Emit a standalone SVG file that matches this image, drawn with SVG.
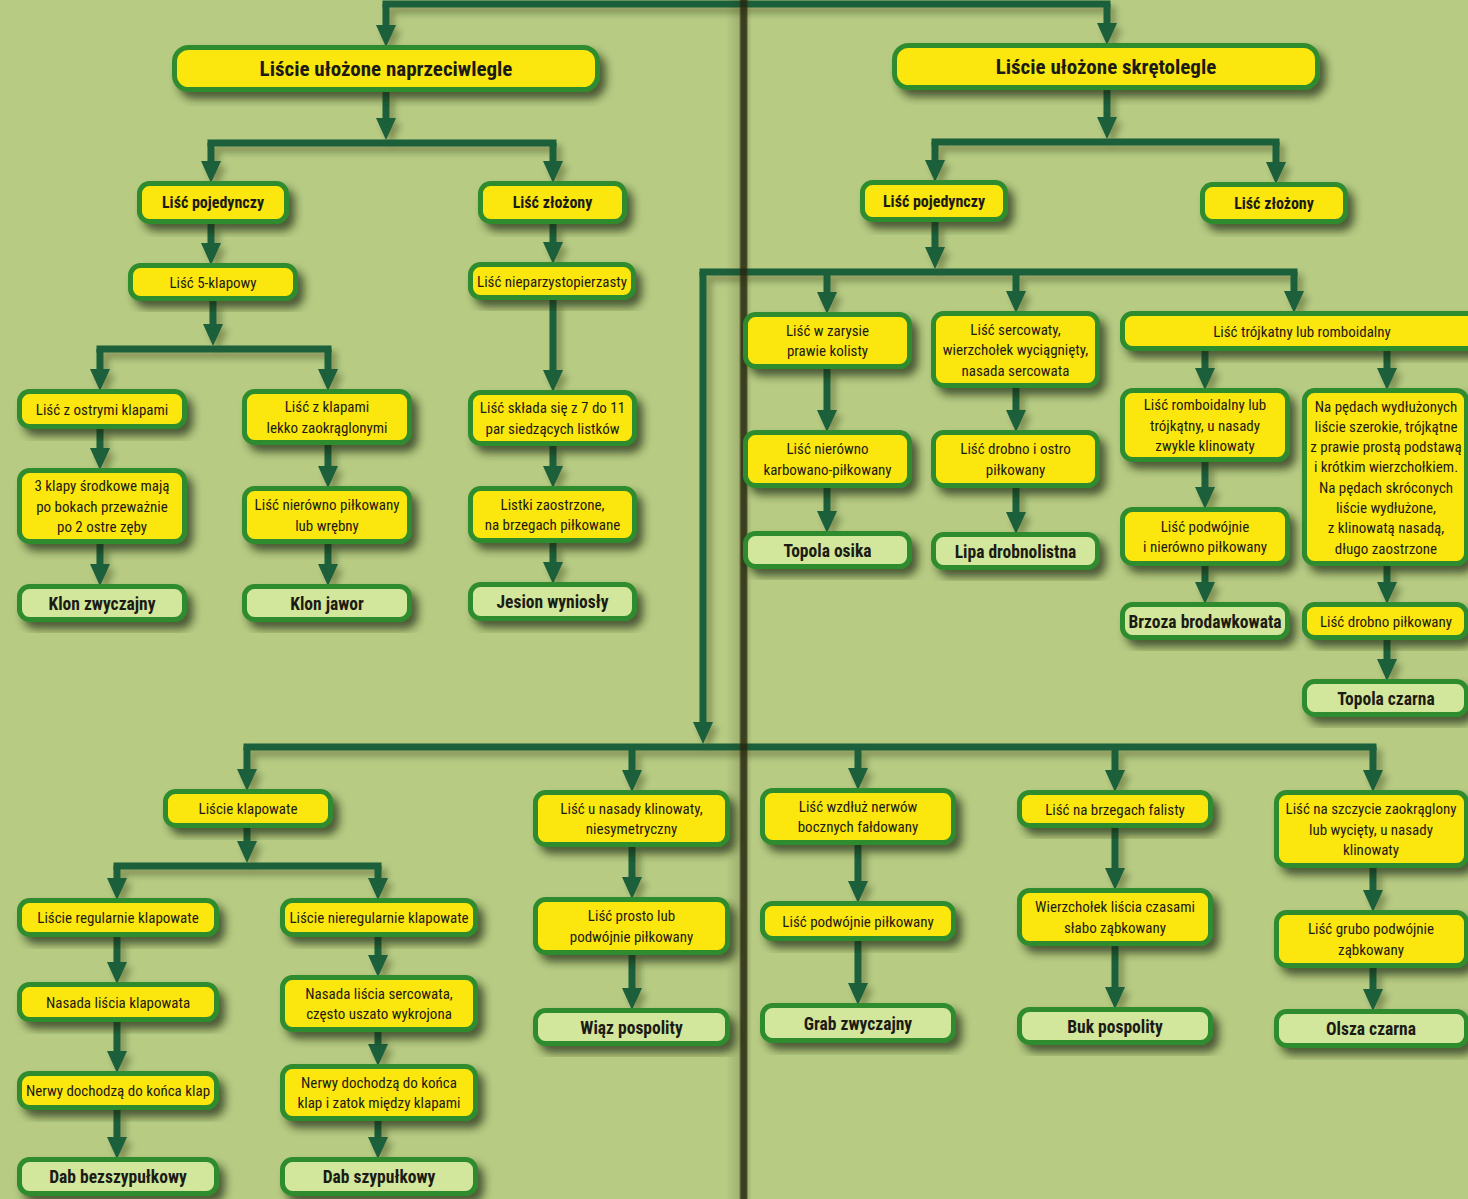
<svg xmlns="http://www.w3.org/2000/svg" width="1468" height="1199" viewBox="0 0 1468 1199">
<defs>
<style>
.y{fill:#fbe60f;stroke:#2f8c2f;stroke-width:5}
.s{fill:#d2e79b;stroke:#2f8c2f;stroke-width:5}
.nd rect{filter:url(#sh)}
text{font-family:"Liberation Sans Narrow","Roboto Condensed","DejaVu Sans Condensed","Liberation Sans",sans-serif;fill:#1b1b14;text-anchor:middle}
.t{font-size:15px}
.h{font-size:21px;font-weight:bold}
.m{font-size:16px;font-weight:bold}
.sp{font-size:17.5px;font-weight:bold}
.a{fill:none;stroke:#1c5e3b;stroke-width:7;marker-end:url(#ah)}
.b{fill:none;stroke:#1c5e3b;stroke-width:7;stroke-linecap:square}
</style>
<filter id="sh" x="-10%" y="-20%" width="130%" height="160%">
<feDropShadow dx="6" dy="7" stdDeviation="4" flood-color="#1d2a08" flood-opacity="0.7"/>
</filter>
<filter id="csh" x="-20%" y="-20%" width="140%" height="140%">
<feDropShadow dx="5" dy="6" stdDeviation="3" flood-color="#1d2a08" flood-opacity="0.35"/>
</filter>
<marker id="ah" markerUnits="userSpaceOnUse" viewBox="0 0 22 20" refX="1" refY="10" markerWidth="22" markerHeight="20" orient="auto">
<path d="M0,0 L22,10 L0,20 z" fill="#1c5e3b"/>
</marker>
<linearGradient id="gut" x1="0" y1="0" x2="1" y2="0">
<stop offset="0" stop-color="#2a2a10" stop-opacity="0"/>
<stop offset="0.5" stop-color="#2a2a10" stop-opacity="0.15"/>
<stop offset="0.58" stop-color="#26260e" stop-opacity="0.85"/>
<stop offset="0.78" stop-color="#26260e" stop-opacity="0.85"/>
<stop offset="0.86" stop-color="#2a2a10" stop-opacity="0.12"/>
<stop offset="1" stop-color="#2a2a10" stop-opacity="0"/>
</linearGradient>
</defs>
<rect width="1468" height="1199" fill="#b7cb83"/>

<g id="connectors" filter="url(#csh)">
<path class="b" d="M386,4 H1107"/>
<path class="a" d="M386,4 V26"/>
<path class="a" d="M1107,4 V24"/>
<path class="a" d="M386,92 V119"/>
<path class="b" d="M211,143 H553"/>
<path class="a" d="M211,143 V162"/>
<path class="a" d="M553,143 V162"/>
<path class="a" d="M211,224 V244"/>
<path class="a" d="M553,224 V243"/>
<path class="a" d="M213,301 V325"/>
<path class="b" d="M100,349 H328"/>
<path class="a" d="M100,349 V370"/>
<path class="a" d="M328,349 V370"/>
<path class="a" d="M553,300 V371"/>
<path class="a" d="M100,429 V449"/>
<path class="a" d="M328,445 V467"/>
<path class="a" d="M553,446 V467"/>
<path class="a" d="M100,544 V565"/>
<path class="a" d="M328,544 V565"/>
<path class="a" d="M553,543 V563"/>
<path class="a" d="M1107,90 V118"/>
<path class="b" d="M935,142 H1276"/>
<path class="a" d="M935,142 V161"/>
<path class="a" d="M1276,142 V163"/>
<path class="a" d="M935,222 V248"/>
<path class="b" d="M703,272 H1294"/>
<path class="a" d="M827,272 V293"/>
<path class="a" d="M1016,272 V292"/>
<path class="a" d="M1294,272 V292"/>
<path class="a" d="M703,272 V723"/>
<path class="a" d="M827,369 V411"/>
<path class="a" d="M1016,388 V411"/>
<path class="a" d="M827,488 V512"/>
<path class="a" d="M1016,488 V513"/>
<path class="a" d="M1205,351 V369"/>
<path class="a" d="M1387,351 V369"/>
<path class="a" d="M1205,462 V488"/>
<path class="a" d="M1205,566 V583"/>
<path class="a" d="M1387,566 V583"/>
<path class="a" d="M1387,640 V660"/>
<path class="b" d="M247,747 H1373"/>
<path class="a" d="M247,747 V770"/>
<path class="a" d="M632,747 V771"/>
<path class="a" d="M858,747 V769"/>
<path class="a" d="M1115,747 V771"/>
<path class="a" d="M1373,747 V771"/>
<path class="a" d="M247,828 V842"/>
<path class="b" d="M117,866 H378"/>
<path class="a" d="M117,866 V879"/>
<path class="a" d="M378,866 V879"/>
<path class="a" d="M117,937 V963"/>
<path class="a" d="M117,1022 V1052"/>
<path class="a" d="M117,1110 V1138"/>
<path class="a" d="M378,937 V956"/>
<path class="a" d="M378,1032 V1045"/>
<path class="a" d="M378,1121 V1138"/>
<path class="a" d="M632,847 V878"/>
<path class="a" d="M632,955 V989"/>
<path class="a" d="M858,845 V882"/>
<path class="a" d="M858,941 V984"/>
<path class="a" d="M1115,828 V869"/>
<path class="a" d="M1115,946 V988"/>
<path class="a" d="M1373,868 V891"/>
<path class="a" d="M1373,968 V990"/>
</g>

<rect id="gutter" x="726" y="0" width="26" height="1199" fill="url(#gut)"/>

<g id="n1" class="nd"><rect class="y" x="174.5" y="47.5" width="423" height="42" rx="14"/><text class="h" x="386" y="76">Liście ułożone naprzeciwlegle</text></g>
<g id="n2" class="nd"><rect class="y" x="894.5" y="45.5" width="423" height="42" rx="14"/><text class="h" x="1106" y="74">Liście ułożone skrętolegle</text></g>
<g id="n3" class="nd"><rect class="y" x="139.5" y="183.5" width="147" height="38" rx="10"/><text class="m" x="213" y="208">Liść pojedynczy</text></g>
<g id="n4" class="nd"><rect class="y" x="480.5" y="183.5" width="144" height="38" rx="10"/><text class="m" x="552.5" y="208">Liść złożony</text></g>
<g id="n5" class="nd"><rect class="y" x="130.5" y="265.5" width="165" height="33" rx="10"/><text class="t" x="213" y="287.5">Liść 5-klapowy</text></g>
<g id="n6" class="nd"><rect class="y" x="470.5" y="264.5" width="163" height="33" rx="10"/><text class="t" x="552" y="286.5">Liść nieparzystopierzasty</text></g>
<g id="n7" class="nd"><rect class="y" x="19.5" y="391.5" width="165" height="35" rx="10"/><text class="t" x="102" y="414.5">Liść z ostrymi klapami</text></g>
<g id="n8" class="nd"><rect class="y" x="244.5" y="391.5" width="165" height="51" rx="10"/><text class="t"><tspan x="327" y="412.25">Liść z klapami</tspan><tspan x="327" y="432.75">lekko zaokrąglonymi</tspan></text></g>
<g id="n9" class="nd"><rect class="y" x="470.5" y="392.5" width="164" height="51" rx="10"/><text class="t"><tspan x="552.5" y="413.25">Liść składa się z 7 do 11</tspan><tspan x="552.5" y="433.75">par siedzących listków</tspan></text></g>
<g id="n10" class="nd"><rect class="y" x="19.5" y="470.5" width="165" height="71" rx="10"/><text class="t"><tspan x="102" y="491">3 klapy środkowe mają</tspan><tspan x="102" y="511.5">po bokach przeważnie</tspan><tspan x="102" y="532">po 2 ostre zęby</tspan></text></g>
<g id="n11" class="nd"><rect class="y" x="244.5" y="488.5" width="165" height="53" rx="10"/><text class="t"><tspan x="327" y="510.25">Liść nierówno piłkowany</tspan><tspan x="327" y="530.75">lub wrębny</tspan></text></g>
<g id="n12" class="nd"><rect class="y" x="470.5" y="488.5" width="164" height="52" rx="10"/><text class="t"><tspan x="552.5" y="509.75">Listki zaostrzone,</tspan><tspan x="552.5" y="530.25">na brzegach piłkowane</tspan></text></g>
<g id="n13" class="nd"><rect class="s" x="19.5" y="586.5" width="165" height="33" rx="10"/><text class="sp" x="102" y="609.5">Klon zwyczajny</text></g>
<g id="n14" class="nd"><rect class="s" x="244.5" y="586.5" width="165" height="33" rx="10"/><text class="sp" x="327" y="609.5">Klon jawor</text></g>
<g id="n15" class="nd"><rect class="s" x="470.5" y="584.5" width="164" height="34" rx="10"/><text class="sp" x="552.5" y="608">Jesion wyniosły</text></g>
<g id="n16" class="nd"><rect class="y" x="862.5" y="182.5" width="143" height="37" rx="10"/><text class="m" x="934" y="206.5">Liść pojedynczy</text></g>
<g id="n17" class="nd"><rect class="y" x="1202.5" y="184.5" width="143" height="37" rx="10"/><text class="m" x="1274" y="208.5">Liść złożony</text></g>
<g id="n18" class="nd"><rect class="y" x="745.5" y="314.5" width="164" height="52" rx="10"/><text class="t"><tspan x="827.5" y="335.75">Liść w zarysie</tspan><tspan x="827.5" y="356.25">prawie kolisty</tspan></text></g>
<g id="n19" class="nd"><rect class="y" x="933.5" y="313.5" width="164" height="72" rx="10"/><text class="t"><tspan x="1015.5" y="334.5">Liść sercowaty,</tspan><tspan x="1015.5" y="355">wierzchołek wyciągnięty,</tspan><tspan x="1015.5" y="375.5">nasada sercowata</tspan></text></g>
<g id="n20" class="nd"><rect class="y" x="1122.5" y="313.5" width="360" height="35" rx="10"/><text class="t" x="1302" y="336.5">Liść trójkatny lub romboidalny</text></g>
<g id="n21" class="nd"><rect class="y" x="745.5" y="432.5" width="164" height="53" rx="10"/><text class="t"><tspan x="827.5" y="454.25">Liść nierówno</tspan><tspan x="827.5" y="474.75">karbowano-piłkowany</tspan></text></g>
<g id="n22" class="nd"><rect class="y" x="933.5" y="432.5" width="164" height="53" rx="10"/><text class="t"><tspan x="1015.5" y="454.25">Liść drobno i ostro</tspan><tspan x="1015.5" y="474.75">piłkowany</tspan></text></g>
<g id="n23" class="nd"><rect class="s" x="745.5" y="533.5" width="164" height="33" rx="10"/><text class="sp" x="827.5" y="556.5">Topola osika</text></g>
<g id="n24" class="nd"><rect class="s" x="933.5" y="534.5" width="164" height="33" rx="10"/><text class="sp" x="1015.5" y="557.5">Lipa drobnolistna</text></g>
<g id="n25" class="nd"><rect class="y" x="1122.5" y="390.5" width="165" height="69" rx="10"/><text class="t"><tspan x="1205" y="410">Liść romboidalny lub</tspan><tspan x="1205" y="430.5">trójkątny, u nasady</tspan><tspan x="1205" y="451">zwykle klinowaty</tspan></text></g>
<g id="n26" class="nd"><rect class="y" x="1304.5" y="390.5" width="162" height="173" rx="10"/><text class="t"><tspan x="1386" y="411.5">Na pędach wydłużonych</tspan><tspan x="1386" y="431.8">liście szerokie, trójkątne</tspan><tspan x="1386" y="452.1">z prawie prostą podstawą</tspan><tspan x="1386" y="472.4">i krótkim wierzchołkiem.</tspan><tspan x="1386" y="492.7">Na pędach skróconych</tspan><tspan x="1386" y="513">liście wydłużone,</tspan><tspan x="1386" y="533.3">z klinowatą nasadą,</tspan><tspan x="1386" y="553.6">długo zaostrzone</tspan></text></g>
<g id="n27" class="nd"><rect class="y" x="1122.5" y="509.5" width="165" height="54" rx="10"/><text class="t"><tspan x="1205" y="531.75">Liść podwójnie</tspan><tspan x="1205" y="552.25">i nierówno piłkowany</tspan></text></g>
<g id="n28" class="nd"><rect class="s" x="1122.5" y="604.5" width="165" height="33" rx="10"/><text class="sp" x="1205" y="627.5">Brzoza brodawkowata</text></g>
<g id="n29" class="nd"><rect class="y" x="1304.5" y="604.5" width="162" height="33" rx="10"/><text class="t" x="1386" y="626.5">Liść drobno piłkowany</text></g>
<g id="n30" class="nd"><rect class="s" x="1304.5" y="681.5" width="162" height="33" rx="10"/><text class="sp" x="1386" y="704.5">Topola czarna</text></g>
<g id="n31" class="nd"><rect class="y" x="165.5" y="791.5" width="165" height="34" rx="10"/><text class="t" x="248" y="814">Liście klapowate</text></g>
<g id="n32" class="nd"><rect class="y" x="535.5" y="792.5" width="192" height="52" rx="10"/><text class="t"><tspan x="631.5" y="813.75">Liść u nasady klinowaty,</tspan><tspan x="631.5" y="834.25">niesymetryczny</tspan></text></g>
<g id="n33" class="nd"><rect class="y" x="762.5" y="790.5" width="191" height="52" rx="10"/><text class="t"><tspan x="858" y="811.75">Liść wzdłuż nerwów</tspan><tspan x="858" y="832.25">bocznych fałdowany</tspan></text></g>
<g id="n34" class="nd"><rect class="y" x="1019.5" y="792.5" width="191" height="33" rx="10"/><text class="t" x="1115" y="814.5">Liść na brzegach falisty</text></g>
<g id="n35" class="nd"><rect class="y" x="1276.5" y="792.5" width="190" height="73" rx="10"/><text class="t"><tspan x="1371" y="814">Liść na szczycie zaokrąglony</tspan><tspan x="1371" y="834.5">lub wycięty, u nasady</tspan><tspan x="1371" y="855">klinowaty</tspan></text></g>
<g id="n36" class="nd"><rect class="y" x="19.5" y="900.5" width="197" height="34" rx="10"/><text class="t" x="118" y="923">Liście regularnie klapowate</text></g>
<g id="n37" class="nd"><rect class="y" x="282.5" y="900.5" width="193" height="34" rx="10"/><text class="t" x="379" y="923">Liście nieregularnie klapowate</text></g>
<g id="n38" class="nd"><rect class="y" x="535.5" y="899.5" width="192" height="53" rx="10"/><text class="t"><tspan x="631.5" y="921.25">Liść prosto lub</tspan><tspan x="631.5" y="941.75">podwójnie piłkowany</tspan></text></g>
<g id="n39" class="nd"><rect class="y" x="762.5" y="903.5" width="191" height="35" rx="10"/><text class="t" x="858" y="926.5">Liść podwójnie piłkowany</text></g>
<g id="n40" class="nd"><rect class="y" x="1019.5" y="890.5" width="191" height="53" rx="10"/><text class="t"><tspan x="1115" y="912.25">Wierzchołek liścia czasami</tspan><tspan x="1115" y="932.75">słabo ząbkowany</tspan></text></g>
<g id="n41" class="nd"><rect class="y" x="1276.5" y="912.5" width="190" height="53" rx="10"/><text class="t"><tspan x="1371" y="934.25">Liść grubo podwójnie</tspan><tspan x="1371" y="954.75">ząbkowany</tspan></text></g>
<g id="n42" class="nd"><rect class="y" x="19.5" y="984.5" width="197" height="35" rx="10"/><text class="t" x="118" y="1007.5">Nasada liścia klapowata</text></g>
<g id="n43" class="nd"><rect class="y" x="282.5" y="977.5" width="193" height="52" rx="10"/><text class="t"><tspan x="379" y="998.75">Nasada liścia sercowata,</tspan><tspan x="379" y="1019.25">często uszato wykrojona</tspan></text></g>
<g id="n44" class="nd"><rect class="s" x="535.5" y="1010.5" width="192" height="33" rx="10"/><text class="sp" x="631.5" y="1033.5">Wiąz pospolity</text></g>
<g id="n45" class="nd"><rect class="s" x="762.5" y="1005.5" width="191" height="35" rx="10"/><text class="sp" x="858" y="1029.5">Grab zwyczajny</text></g>
<g id="n46" class="nd"><rect class="s" x="1019.5" y="1009.5" width="191" height="33" rx="10"/><text class="sp" x="1115" y="1032.5">Buk pospolity</text></g>
<g id="n47" class="nd"><rect class="s" x="1276.5" y="1011.5" width="190" height="34" rx="10"/><text class="sp" x="1371" y="1035">Olsza czarna</text></g>
<g id="n48" class="nd"><rect class="y" x="19.5" y="1073.5" width="197" height="34" rx="10"/><text class="t" x="118" y="1096">Nerwy dochodzą do końca klap</text></g>
<g id="n49" class="nd"><rect class="y" x="282.5" y="1066.5" width="193" height="52" rx="10"/><text class="t"><tspan x="379" y="1087.75">Nerwy dochodzą do końca</tspan><tspan x="379" y="1108.25">klap i zatok między klapami</tspan></text></g>
<g id="n50" class="nd"><rect class="s" x="19.5" y="1159.5" width="197" height="34" rx="10"/><text class="sp" x="118" y="1183">Dab bezszypułkowy</text></g>
<g id="n51" class="nd"><rect class="s" x="282.5" y="1159.5" width="193" height="34" rx="10"/><text class="sp" x="379" y="1183">Dab szypułkowy</text></g>
</svg>
